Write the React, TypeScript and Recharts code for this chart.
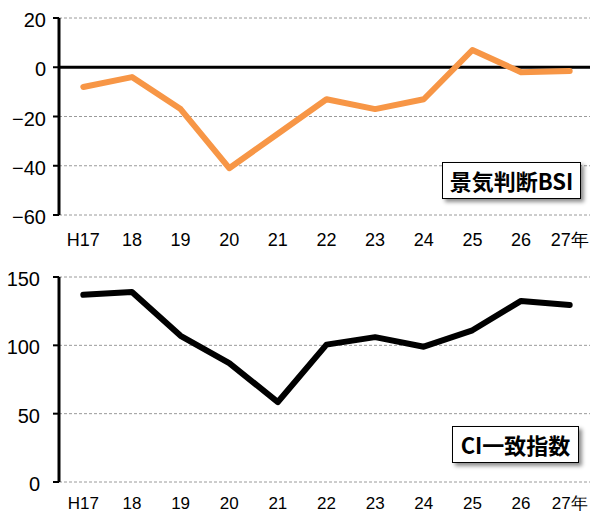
import React from 'react';
import { LineChart, Line, XAxis, YAxis, CartesianGrid, ReferenceLine } from 'recharts';

const categories = ['H17', '18', '19', '20', '21', '22', '23', '24', '25', '26', '27年'];
const bsiValues = [-8, -4, -17, -41, -27, -13, -17, -13, 7, -2, -1.5];
const ciValues = [137, 139, 107, 87, 58.5, 100.5, 106, 99, 111, 132.5, 129.5];
const bsiTicks = [-60, -40, -20, 0, 20];
const ciTicks = [0, 50, 100, 150];
const bsiLabel = '景気判断BSI';
const ciLabel = 'CI一致指数';

const boundaryTicks = categories.map((_, i) => i).concat([categories.length]);
const centerTicks = categories.map((_, i) => i + 0.5);
const data = categories.map((c, i) => ({ x: i + 0.5, cat: c, bsi: bsiValues[i], ci: ciValues[i] }));

const FONT = '"Liberation Sans", Arial, sans-serif';
const fmt = (v: number) => (v < 0 ? '\u2212' + Math.abs(v) : String(v));

const YTick = (props: any) => {
  const { x, y, payload } = props;
  return (
    <text x={x} y={y} dy={9} textAnchor="end" fontSize={20} fontFamily={FONT} fill="#000">
      {fmt(payload.value)}
    </text>
  );
};

const makeXTick = (size: number) => (props: any) => {
  const { x, y, payload } = props;
  const idx = Math.floor(payload.value);
  return (
    <text x={x} y={y} dy={size * 0.72} textAnchor="middle" fontSize={size} fontFamily={FONT} fill="#000">
      {categories[idx]}
    </text>
  );
};

const boxStyle = (left: number, top: number, width: number, height: number): React.CSSProperties => ({
  position: 'absolute',
  left,
  top,
  width,
  height,
  boxSizing: 'border-box',
  border: '1px solid #000',
  background: '#fff',
  boxShadow: '3px 3px 4px rgba(0,0,0,0.45)',
  fontFamily: '"Noto Sans CJK JP", sans-serif',
  fontWeight: 'bold',
  fontSize: 22,
  lineHeight: '35px',
  textAlign: 'center',
  color: '#000',
  whiteSpace: 'nowrap',
});

export default function App() {
  return (
    <div style={{ position: 'absolute', left: 0, top: 0, width: 590, height: 514, overflow: 'hidden', background: '#fff' }}>
      <div style={{ position: 'absolute', left: 0, top: 0 }}>
        <LineChart width={594} height={250} data={data} margin={{ top: 18, right: 0, left: 0, bottom: 0 }}>
          <CartesianGrid xAxisId="lines" vertical={false} stroke="#9a9a9a" strokeDasharray="3 2" />
          <XAxis xAxisId="lines" type="number" dataKey="x" domain={[0, categories.length]} ticks={boundaryTicks}
            tick={false} height={0} axisLine={{ stroke: '#000', strokeWidth: 3 }} tickLine={{ stroke: '#000', strokeWidth: 2 }} tickSize={6} />
          <XAxis xAxisId="labels" type="number" dataKey="x" domain={[0, categories.length]} ticks={centerTicks}
            height={35} axisLine={false} tickLine={false} tickSize={6} tickMargin={12} tick={makeXTick(18)} />
          <YAxis type="number" domain={[-60, 20]} ticks={bsiTicks} width={59} interval={0}
            axisLine={{ stroke: '#000', strokeWidth: 3 }} tickLine={{ stroke: '#000', strokeWidth: 2 }} tickSize={6} tickMargin={7} tick={<YTick />} />
          <ReferenceLine xAxisId="lines" y={0} stroke="#000" strokeWidth={3} />
          <Line xAxisId="lines" type="linear" dataKey="bsi" stroke="#F79646" strokeWidth={6} dot={false}
            strokeLinecap="round" strokeLinejoin="round" isAnimationActive={false} />
        </LineChart>
        <div style={boxStyle(442, 162, 139, 37)}>{bsiLabel}</div>
      </div>
      <div style={{ position: 'absolute', left: 0, top: 250 }}>
        <LineChart width={594} height={264} data={data} margin={{ top: 27, right: 0, left: 0, bottom: 0 }}>
          <CartesianGrid xAxisId="lines" vertical={false} stroke="#9a9a9a" strokeDasharray="3 2" />
          <XAxis xAxisId="lines" type="number" dataKey="x" domain={[0, categories.length]} ticks={boundaryTicks}
            tick={false} height={0} axisLine={{ stroke: '#000', strokeWidth: 3 }} tickLine={{ stroke: '#000', strokeWidth: 2 }} tickSize={6} />
          <XAxis xAxisId="labels" type="number" dataKey="x" domain={[0, categories.length]} ticks={centerTicks}
            height={32} axisLine={false} tickLine={false} tickSize={6} tickMargin={9} tick={makeXTick(17)} />
          <YAxis type="number" domain={[0, 150]} ticks={ciTicks} width={59} interval={0}
            axisLine={{ stroke: '#000', strokeWidth: 3 }} tickLine={{ stroke: '#000', strokeWidth: 2 }} tickSize={6} tickMargin={13} tick={<YTick />} />
          <Line xAxisId="lines" type="linear" dataKey="ci" stroke="#000" strokeWidth={6} dot={false}
            strokeLinecap="round" strokeLinejoin="round" isAnimationActive={false} />
        </LineChart>
        <div style={boxStyle(452, 176, 127, 37)}>{ciLabel}</div>
      </div>
    </div>
  );
}
